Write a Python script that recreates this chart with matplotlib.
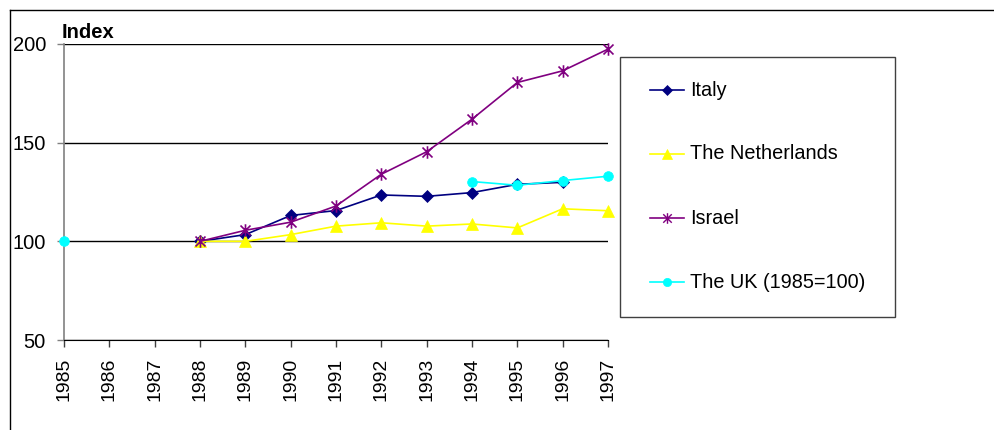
import matplotlib.pyplot as plt
from matplotlib.lines import Line2D
from matplotlib.patches import Rectangle
from matplotlib.path import Path

plt.rcParams['font.family'] = ['Liberation Sans', 'DejaVu Sans']

years = list(range(1985, 1998))

# index values per year, None where there is no observation
italy = [None, None, None, 100, 103.4, 113.1, 115.6, 123.5, 122.8, 124.7, 128.9, 129.9, None]
netherlands = [None, None, None, 100, 100, 103.4, 107.7, 109.4, 107.7, 108.8, 106.8, 116.5, 115.5]
israel = [None, None, None, 100, 105.6, 109.7, 117.9, 134.0, 145.4, 161.9, 180.5, 186.4, 197.4]
uk = [100, None, None, None, None, None, None, None, None, 130.3, 128.4, 130.8, 133.0]

# X with a vertical bar through it
star = Path([(-1, -1), (1, 1), (-1, 1), (1, -1), (0, -1.25), (0, 1.25)],
            [Path.MOVETO, Path.LINETO] * 3)

series = [
    ("Italy", italy, "#000080", "D", 6),
    ("The Netherlands", netherlands, "#FFFF00", "^", 8),
    ("Israel", israel, "#800080", star, 9),
    ("The UK (1985=100)", uk, "#00FFFF", "o", 7),
]

W, H = 994, 430
fig = plt.figure(figsize=(W / 100, H / 100), dpi=100)
ax = fig.add_axes([64 / W, 90 / H, 544 / W, 296 / H])

for name, vals, color, marker, ms in series:
    xs = [y if v is not None else float('nan') for y, v in zip(years, vals)]
    ys = [v if v is not None else float('nan') for v in vals]
    ax.plot(xs, ys, color=color, marker=marker, markersize=ms, linewidth=1.2,
            markeredgewidth=1.2 if marker is star else 0.5,
            markeredgecolor=color, clip_on=False, zorder=3)

ax.set_xlim(1985, 1997)
ax.set_ylim(50, 200)
ax.set_yticks([50, 100, 150, 200])
ax.set_xticks(years)
ax.set_xticklabels([str(y) for y in years], rotation=90, fontsize=14)
ax.tick_params(axis='y', labelsize=14.5, length=5, width=1, color='#808080', pad=8)
ax.tick_params(axis='x', length=5, width=1, color='#404040', pad=8)
ax.grid(axis='y', color='black', linewidth=1)
ax.set_axisbelow(True)

for side in ['top', 'right']:
    ax.spines[side].set_visible(False)
ax.spines['left'].set_color('#808080')
ax.spines['left'].set_linewidth(1.2)
ax.spines['bottom'].set_color('black')

ax.text(-0.004, 1.008, "Index", transform=ax.transAxes, ha='left', va='bottom',
        fontsize=14.5, fontweight='bold')

# legend box drawn by hand, in pixel units of the figure
def px(x, y):
    return x / W, 1 - y / H

x0, y0 = px(620, 317)
x1, y1 = px(895, 57)
fig.add_artist(Rectangle((x0, y0), x1 - x0, y1 - y0, transform=fig.transFigure,
                         facecolor='white', edgecolor='#404040', linewidth=1))
for i, (name, _, color, marker, ms) in enumerate(series):
    yy = 90 + 64 * i
    lx0, ly = px(650, yy)
    lx1, _ = px(684, yy)
    mx, _ = px(667, yy)
    fig.add_artist(Line2D([lx0, lx1], [ly, ly], color=color, linewidth=1.2,
                          transform=fig.transFigure))
    fig.add_artist(Line2D([mx], [ly], color=color, marker=marker,
                          markersize=ms * 0.85, markeredgecolor=color,
                          markeredgewidth=1 if marker is star else 0.5,
                          transform=fig.transFigure))
    tx, _ = px(690, yy)
    fig.text(tx, ly, name, ha='left', va='center', fontsize=14.3)

# frame lines around the chart area
fig.add_artist(Line2D([10 / W, 10 / W], [0, 1 - 10 / H], color='black',
                      linewidth=1, transform=fig.transFigure))
fig.add_artist(Line2D([10 / W, 993 / W], [1 - 10 / H, 1 - 10 / H],
                      color='black', linewidth=1, transform=fig.transFigure))

fig.savefig("out.png", dpi=100)
